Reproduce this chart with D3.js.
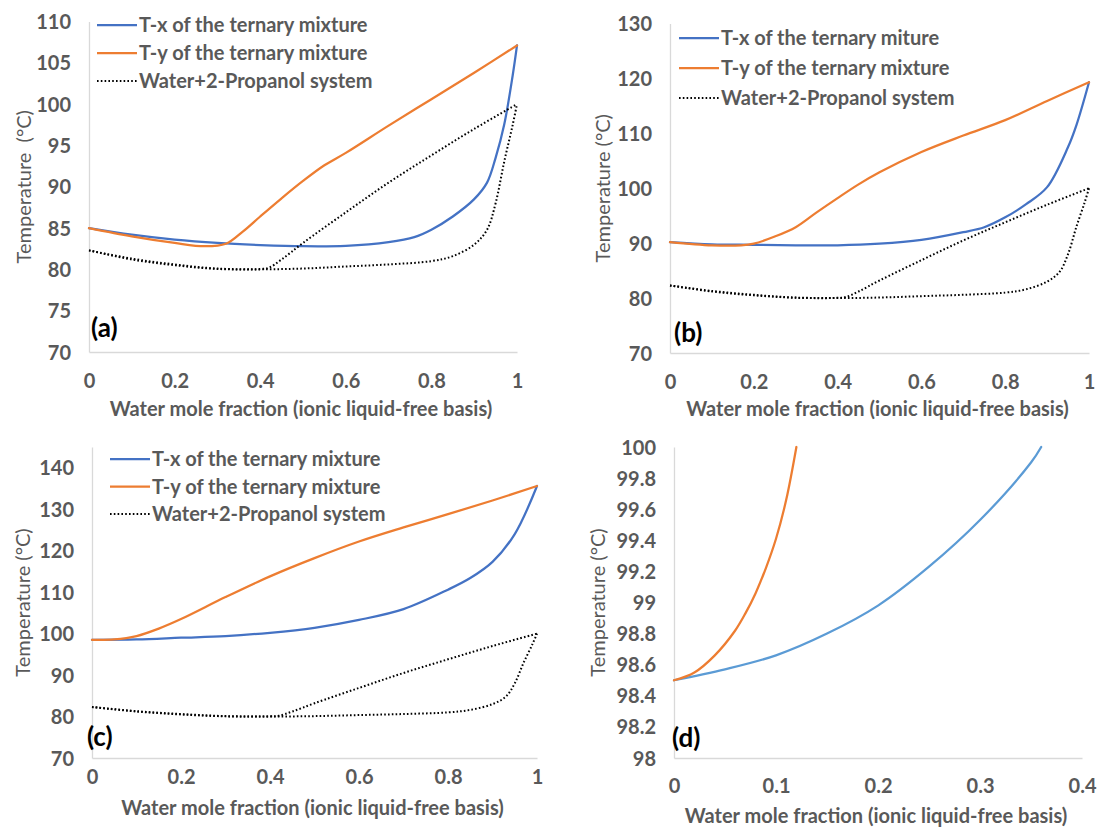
<!DOCTYPE html>
<html>
<head>
<meta charset="utf-8">
<script src="https://cdn.jsdelivr.net/npm/d3@7/dist/d3.min.js"></script>
<style>
  html, body { margin: 0; padding: 0; background: #fff; }
  svg { display: block; }
  text { font-family: Lato, "Open Sans", sans-serif; }
</style>
</head>
<body>
<svg id="chart" width="1098" height="830"></svg>
<script>
// ---- Data: temperature (°C) vs water mole fraction (ionic liquid-free basis) ----
// Panel (a)
const aTx = [[0,85],[0.1,84.2],[0.2,83.6],[0.3,83.2],[0.4,82.95],[0.5,82.8],[0.6,82.85],[0.7,83.3],[0.76,83.9],[0.8,84.8],[0.85,86.4],[0.9,88.5],[0.93,90.5],[0.95,93.5],[0.97,97.5],[0.99,103.5],[1,107.1]];
const aTy = [[0,85],[0.1,84.0],[0.2,83.2],[0.27,82.8],[0.32,83.1],[0.36,84.6],[0.4,86.4],[0.45,88.6],[0.5,90.7],[0.55,92.6],[0.6,94.1],[0.7,97.4],[0.8,100.6],[0.9,103.8],[1,107.1]];
// Panel (b)
const bTx = [[0,90.2],[0.1,89.8],[0.2,89.7],[0.3,89.6],[0.4,89.6],[0.5,89.9],[0.6,90.6],[0.7,92.0],[0.75,92.9],[0.8,94.7],[0.85,97.1],[0.9,100.2],[0.95,107.5],[0.97,111.5],[1,119.3]];
const bTy = [[0,90.2],[0.1,89.6],[0.17,89.6],[0.2,89.9],[0.25,91.2],[0.3,92.9],[0.35,95.6],[0.4,98.2],[0.45,100.7],[0.5,102.9],[0.6,106.6],[0.7,109.6],[0.8,112.4],[0.9,115.9],[1,119.3]];
// Panel (c)
const cTx = [[0,98.5],[0.1,98.6],[0.2,99.0],[0.3,99.4],[0.4,100.2],[0.5,101.4],[0.6,103.3],[0.7,105.9],[0.8,110.6],[0.85,113.4],[0.9,117.3],[0.95,124.0],[1,135.6]];
const cTy = [[0,98.5],[0.05,98.6],[0.1,99.4],[0.15,101.2],[0.2,103.5],[0.3,108.8],[0.4,113.8],[0.5,118.2],[0.6,122.2],[0.7,125.6],[0.8,128.8],[0.9,132.1],[1,135.6]];
// Panel (d): close-up of the low water fraction region of (c)
const dTx = [[0,98.5],[0.05,98.57],[0.1,98.66],[0.15,98.8],[0.2,98.98],[0.25,99.23],[0.3,99.53],[0.35,99.9],[0.36,100]];
const dTy = [[0,98.5],[0.02,98.55],[0.04,98.66],[0.06,98.82],[0.07,98.93],[0.08,99.06],[0.09,99.22],[0.1,99.41],[0.11,99.66],[0.12,100]];
// Binary water + 2-propanol system (bubble and dew branches)
const wpBubble = [[0,82.3],[0.1,81.2],[0.2,80.5],[0.3,80.05],[0.4,80.0],[0.5,80.1],[0.6,80.35],[0.7,80.6],[0.8,81.0],[0.85,81.6],[0.9,83.0],[0.93,84.8],[0.95,88.0],[0.97,93.0],[0.99,97.5],[1,100]];
const wpDew = [[0,82.3],[0.1,81.3],[0.2,80.6],[0.3,80.1],[0.4,80.05],[0.42,80.2],[0.45,81.2],[0.5,83.2],[0.6,86.9],[0.7,90.5],[0.8,93.8],[0.9,97.0],[1,100]];

// Tick values
const xTicksFull = [0,0.2,0.4,0.6,0.8,1];
const xTicksZoom = [0,0.1,0.2,0.3,0.4];
const yTicksA = [70,75,80,85,90,95,100,105,110];
const yTicksB = [70,80,90,100,110,120,130];
const yTicksC = [70,80,90,100,110,120,130,140];
const yTicksD = [98,98.2,98.4,98.6,98.8,99,99.2,99.4,99.6,99.8,100];

// Legend text
const legendTx = "T-x of the ternary mixture";
const legendTxB = "T-x of the ternary miture";
const legendTy = "T-y of the ternary mixture";
const legendWP = "Water+2-Propanol system";
const xTitle = "Water mole fraction (ionic liquid-free basis)";

const BLUE = "#4472C4", ORANGE = "#ED7D31", LIGHTBLUE = "#5B9BD5";
const GRAY = "#595959", AXIS = "#D9D9D9";
const FS = 20;

const panels = [
  { tag:"(a)", x0:89, x1:517, yT:21.5, yB:352, xDom:[0,1], yDom:[70,110], xTicks:xTicksFull, yTicks:yTicksA,
    yTitle:"Temperature  (°C)", yTitleX:24, tickY:381, titleY:409, tagX:91, tagY:328,
    series:[{d:aTx,c:BLUE},{d:aTy,c:ORANGE},{d:wpBubble,dot:true},{d:wpDew,dot:true}],
    legend:{x:97, y:25, gap:28, items:[[legendTx,BLUE],[legendTy,ORANGE],[legendWP,null]]} },
  { tag:"(b)", x0:670, x1:1089, yT:23.5, yB:353, xDom:[0,1], yDom:[70,130], xTicks:xTicksFull, yTicks:yTicksB,
    yTitle:"Temperature (°C)", yTitleX:603, tickY:382, titleY:409, tagX:674, tagY:333,
    series:[{d:bTx,c:BLUE},{d:bTy,c:ORANGE},{d:wpBubble,dot:true},{d:wpDew,dot:true}],
    legend:{x:679, y:38, gap:30, items:[[legendTxB,BLUE],[legendTy,ORANGE],[legendWP,null]]} },
  { tag:"(c)", x0:92, x1:537, yT:447, yB:758, xDom:[0,1], yDom:[70,145], xTicks:xTicksFull, yTicks:yTicksC,
    yTitle:"Temperature (°C)", yTitleX:23, tickY:777, titleY:808, tagX:87, tagY:737,
    series:[{d:cTx,c:BLUE},{d:cTy,c:ORANGE},{d:wpBubble,dot:true},{d:wpDew,dot:true}],
    legend:{x:110, y:459, gap:27.5, items:[[legendTx,BLUE],[legendTy,ORANGE],[legendWP,null]]} },
  { tag:"(d)", x0:674, x1:1082, yT:447, yB:758, xDom:[0,0.4], yDom:[98,100], xTicks:xTicksZoom, yTicks:yTicksD,
    yTitle:"Temperature (°C)", yTitleX:598, tickY:786, titleY:816, tagX:672, tagY:738,
    series:[{d:dTx,c:LIGHTBLUE},{d:dTy,c:ORANGE}],
    legend:null }
];

const svg = d3.select("#chart");
svg.append("rect").attr("width",1098).attr("height",830).attr("fill","#fff");
const fmt = d => String(+d.toFixed(1));

panels.forEach(p => {
  const x = d3.scaleLinear().domain(p.xDom).range([p.x0, p.x1]);
  const y = d3.scaleLinear().domain(p.yDom).range([p.yB, p.yT]);
  const g = svg.append("g");

  // axes
  const ya = g.append("g").attr("transform", `translate(${p.x0},0)`)
    .call(d3.axisLeft(y).tickValues(p.yTicks).tickFormat(fmt).tickSize(0).tickSizeOuter(0).tickPadding(18));
  const xa = g.append("g").attr("transform", `translate(0,${p.yB})`)
    .call(d3.axisBottom(x).tickValues(p.xTicks).tickFormat(fmt).tickSize(0).tickSizeOuter(0).tickPadding(0));
  [ya, xa].forEach(a => {
    a.select(".domain").attr("stroke", AXIS).attr("stroke-width", 1.3);
    a.selectAll("text").attr("fill", GRAY).attr("font-size", FS).attr("font-weight", 700)
      .attr("font-family", "Lato, sans-serif");
  });
  ya.selectAll("text").attr("dy", "0.35em");
  xa.selectAll("text").attr("y", p.tickY - p.yB).attr("dy", "0.35em");

  // axis titles
  g.append("text").attr("x", (p.x0 + p.x1) / 2 - 2).attr("y", p.titleY).attr("dy", "0.35em")
    .attr("text-anchor", "middle").attr("fill", GRAY).attr("font-size", FS).attr("font-weight", 700)
    .text(xTitle);
  g.append("text").attr("transform", `translate(${p.yTitleX},${(p.yT + p.yB) / 2}) rotate(-90)`)
    .attr("dy", "0.35em").attr("text-anchor", "middle").attr("fill", GRAY).attr("font-size", FS)
    .style("white-space", "pre").text(p.yTitle);

  // curves
  const line = d3.line().x(d => x(d[0])).y(d => y(d[1])).curve(d3.curveCatmullRom.alpha(0.5));
  p.series.forEach(s => {
    const path = g.append("path").datum(s.d).attr("d", line).attr("fill", "none");
    if (s.dot) {
      path.attr("stroke", "#000").attr("stroke-width", 2).attr("stroke-dasharray", "1.6,2.2");
    } else {
      path.attr("stroke", s.c).attr("stroke-width", 2.25).attr("stroke-linecap", "round");
    }
  });

  // legend
  if (p.legend) {
    p.legend.items.forEach((it, i) => {
      const ly = p.legend.y + i * p.legend.gap;
      const ln = g.append("line").attr("x1", p.legend.x).attr("x2", p.legend.x + 40)
        .attr("y1", ly).attr("y2", ly);
      if (it[1]) ln.attr("stroke", it[1]).attr("stroke-width", 2.25);
      else ln.attr("stroke", "#000").attr("stroke-width", 2).attr("stroke-dasharray", "1.6,2.2");
      g.append("text").attr("x", p.legend.x + 42).attr("y", ly).attr("dy", "0.35em")
        .attr("fill", GRAY).attr("font-size", FS).attr("font-weight", 700).text(it[0]);
    });
  }

  // panel tag
  g.append("text").attr("x", p.tagX).attr("y", p.tagY).attr("dy", "0.35em")
    .attr("fill", "#000").attr("font-size", 26).attr("font-weight", 700).text(p.tag);
});
</script>
</body>
</html>
